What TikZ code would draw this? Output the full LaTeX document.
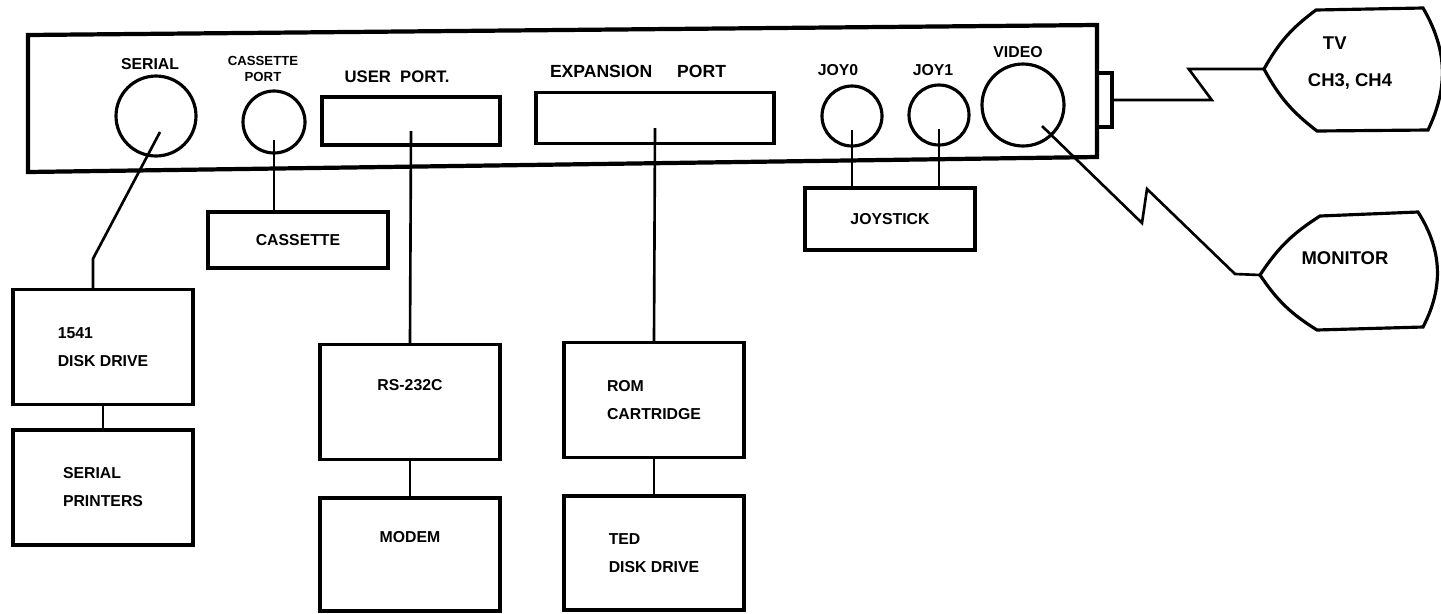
\documentclass[tikz,border=0pt]{standalone}
\usepackage{fontspec}
\setmainfont{Liberation Sans}
\usetikzlibrary{positioning}

\begin{document}
\begin{tikzpicture}[
    x=0.02cm, y=-0.02cm,
    node distance=0.7cm and 0.4cm,
    box/.style={rectangle, draw, line width=2pt, minimum width=3.6cm, minimum height=2.3cm, inner sep=2pt, align=left, font=\bfseries\fontsize{9}{16}\selectfont},
    jack/.style={circle, draw, line width=1.8pt, inner sep=0pt},
    slot/.style={rectangle, draw, line width=2pt, inner sep=0pt},
    tag/.style={inner sep=1pt, align=center, font=\bfseries\fontsize{9}{10}\selectfont},
    wire/.style={line width=1.5pt},
    screen/.style={line width=1.8pt},
    raised/.style={text depth=0.7cm}
]
\useasboundingbox (0,0) rectangle (1441,613);

% rear panel
\draw[line width=2.4pt] (28,35) -- (1097,25) -- (1097,157) -- (28,172) -- cycle;

\node[jack, minimum size=1.6cm] (serial) at (156,116) {};
\node[tag] (serialtxt) at (150,64) {SERIAL};
\node[jack, minimum size=1.24cm] (cport) at (274,122) {};
\node[tag, font=\bfseries\fontsize{7.5}{9}\selectfont] (cporttxt) at (263,69) {CASSETTE\\PORT};
\node[slot, minimum width=3.56cm, minimum height=0.96cm] (uport) at (411,121) {};
\node[tag, font=\bfseries\fontsize{9.5}{10}\selectfont] (uporttxt) at (397,77) {USER\ \ PORT.};
\node[slot, minimum width=4.76cm, minimum height=1.02cm] (exp) at (655,118) {};
\node[tag, font=\bfseries\fontsize{10}{10}\selectfont] (exptxt) at (638,71) {EXPANSION\hspace{0.5cm}PORT};
\node[jack, minimum size=1.2cm] (joy0) at (852,116) {};
\node[tag] (joy0txt) at (838,70) {JOY0};
\node[jack, minimum size=1.2cm] (joy1) at (939,115) {};
\node[tag] (joy1txt) at (933,70) {JOY1};
\node[jack, minimum size=1.64cm] (video) at (1023,105) {};
\node[tag] (videotxt) at (1018,52) {VIDEO};
\node[slot, minimum width=0.3cm, minimum height=1.08cm] (rf) at (1104.5,100) {};

% peripherals
\node[box] (disk) at (103,347) {1541\\DISK DRIVE};
\node[box, below=0.44cm of disk] (printers) {SERIAL\\PRINTERS};
\node[box, minimum height=1.12cm] (cassette) at (298,240) {CASSETTE};
\node[box, raised] (rs) at (410,402) {RS-232C};
\node[box, raised, below=of rs, minimum height=2.26cm] (modem) {MODEM};
\node[box] (rom) at (654,400) {ROM\\CARTRIDGE};
\node[box, below=of rom, minimum height=2.28cm] (ted) {TED\\DISK DRIVE};
\node[box, minimum width=3.4cm, minimum height=1.24cm] (joystick) at (890,219) {JOYSTICK};

% screens
\coordinate (tvtip) at (1264,69);
\draw[screen] (tvtip) to[bend left=12] (1316,10) -- (1423,8) to[bend left=28] (1428,130) -- (1317,131) to[bend left=12] (tvtip);
\node[tag, align=left, font=\bfseries\fontsize{10.5}{11}\selectfont] (tvtxt) at (1350,63) {\hspace*{0.3cm}TV\\[10pt]CH3,\ CH4};
\coordinate (montip) at (1260,275);
\draw[screen] (montip) to[bend left=12] (1320,216) -- (1418,212) to[bend left=30] (1423,327) -- (1317,330) to[bend left=12] (montip);
\node[tag, font=\bfseries\fontsize{10.5}{11}\selectfont] (montxt) at (1345,258) {MONITOR};

% cables
\draw[wire] ([shift={(4,16)}]serial.center) -- ([shift={(-10,-29)}]disk.north) -- ([xshift=-0.2cm]disk.north);
\draw[wire] (disk) -- (printers);
\draw[wire] ([yshift=-0.36cm]cport.center) -- (cport.center |- cassette.north);
\draw[wire] ([yshift=-0.2cm]uport.center) -- (rs.north);
\draw[wire] (rs) -- (modem);
\draw[wire] ([yshift=-0.2cm]exp.center) -- (rom.north);
\draw[wire] (rom) -- (ted);
\draw[wire] ([yshift=-0.28cm]joy0.center) -- (joy0 |- joystick.north);
\draw[wire] ([yshift=-0.28cm]joy1.center) -- (joy1 |- joystick.north);
\draw[wire] (rf.east) -- ++(98,0) -- ++(-23,-31) -- (tvtip);
\draw[wire] ([shift={(19,21)}]video.center) -- (1142,223) -- (1147,189) -- (1235,274) -- (montip);
\end{tikzpicture}
\end{document}
